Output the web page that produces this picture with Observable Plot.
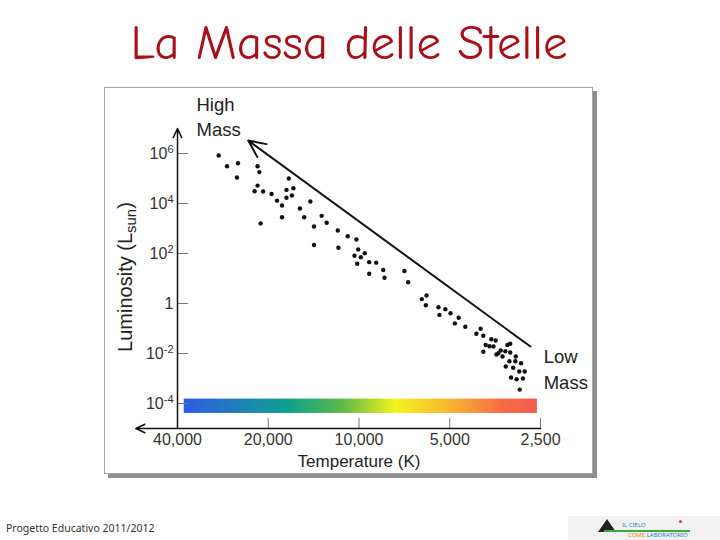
<!DOCTYPE html>
<html>
<head>
<meta charset="utf-8">
<script src="https://cdn.jsdelivr.net/npm/d3@7"></script>
<script src="https://cdn.jsdelivr.net/npm/@observablehq/plot@0.6"></script>
<style>
  html, body { margin: 0; padding: 0; background: #fff; }
  #page { position: relative; width: 720px; height: 540px; overflow: hidden; background: #fff; }
  #title { position: absolute; left: -11px; top: 19px; width: 720px; text-align: center;
           font-family: "Comic Sans MS", "Comic Neue", "Noto Sans", sans-serif; font-size: 49px; line-height: 1;
           color: #a80f18; }
  #frame { position: absolute; left: 104px; top: 87px; width: 487px; height: 385px;
           border: 1px solid #a6a6a6; box-shadow: 4px 4px 0 #8f8f8f; background: #fff; }
  #chart { position: absolute; left: 0; top: 85px; }
  #footer { position: absolute; left: 6px; top: 521px; font-family: "Comic Sans MS", "Noto Sans", sans-serif;
            font-size: 10.5px; color: #333; }
  #logo { position: absolute; left: 568px; top: 516px; width: 152px; height: 24px; background: #f1f1f1; }
  #logo .hill { position: absolute; left: 30px; top: 3px; width: 0; height: 0;
                border-left: 9px solid transparent; border-right: 9px solid transparent; border-bottom: 13px solid #222; }
  #logo .line { position: absolute; left: 36px; top: 14px; width: 86px; height: 2px; background: #3aa83a; }
  #logo .t1 { position: absolute; left: 54px; top: 5px; font: 6px "Noto Sans", sans-serif; color: #2f7fb8; }
  #logo .t2 { position: absolute; left: 60px; top: 15px; font: 6px "Noto Sans", sans-serif; color: #2f7fb8; }
  #logo .t2 b { color: #f08020; font-weight: normal; }
  #logo .dot { position: absolute; left: 111px; top: 4px; width: 3px; height: 3px; background: #d04040; border-radius: 2px; }
</style>
</head>
<body>
<div id="page">
  <div id="title">La Massa delle Stelle</div>
  <div id="frame"></div>
  <div id="chart"></div>
  <div id="footer">Progetto Educativo 2011/2012</div>
  <div id="logo"><div class="hill"></div><div class="line"></div><div class="dot"></div>
    <div class="t1">IL CIELO</div><div class="t2"><b>COME</b> LABORATORIO</div></div>
</div>
<script>
// ---- data ----
const tempTicks = [40000, 20000, 10000, 5000, 2500];
const lumTicks = [1e-4, 1e-2, 1, 1e2, 1e4, 1e6];
const lumTickBase = ["10", "10", "1", "10", "10", "10"];
const lumTickExp = ["-4", "-2", "", "2", "4", "6"];

// stars: surface temperature (K) and luminosity (L_sun)
const starTemp = [29200, 27400, 25200, 25400, 21700, 21400, 21700, 22200, 20800, 19500,
  17100, 17400, 16500, 17400, 16700, 18700, 18000, 15700, 14500, 18000,
  15200, 21200, 13300, 12800, 14100, 14100, 11760, 10900, 10200, 11700,
  10060, 9570, 10350, 9860, 10140, 9250, 8770, 8310, 9250, 8230,
  7070, 6870, 5970, 6190, 6000, 5450, 5170, 5410, 4970, 4670,
  4810, 4440, 3950, 4080, 3870, 3640, 3520, 3800, 3690, 3580,
  3870, 3220, 3150, 3390, 3270, 3500, 3450, 3150, 3340, 3020,
  3170, 3030, 2900, 3260, 3080, 2940, 2820, 3130, 3000, 2860, 2930];
const starLum = [8.3e5, 3.1e5, 4.1e5, 1.1e5, 3.1e5, 1.8e5, 5.2e4, 3.1e4, 3.0e4, 2.4e4,
  1.0e5, 3.5e4, 4.1e4, 1.7e4, 2.1e4, 1.3e4, 8.3e3, 6.3e3, 1.2e4, 2.8e3,
  2.8e3, 1.6e3, 3.2e3, 1.7e3, 1.2e3, 220, 830, 490, 363, 170,
  145, 103, 81, 71, 39, 45, 43, 22, 15.5, 10.7,
  20, 7.1, 2.1, 1.5, 0.85, 0.71, 0.59, 0.35, 0.41, 0.27,
  0.16, 0.117, 0.098, 0.062, 0.051, 0.037, 0.033, 0.022, 0.0195, 0.019,
  0.0117, 0.022, 0.0245, 0.0132, 0.0123, 0.0091, 0.0103, 0.011, 0.0076, 0.0076,
  0.0049, 0.0049, 0.0041, 0.0030, 0.0027, 0.0019, 0.0019, 0.0011, 0.00093, 0.0010, 0.00036];

// main-sequence mass arrow (low mass -> high mass)
const massArrowTemp = [2700, 23300];
const massArrowLum = [0.019, 3.3e6];

// annotation labels
const noteText = ["High\nMass", "Low\nMass"];
const noteTemp = [34600, 2440];
const noteLum = [3.4e7, 0.0027];

// axis extents (arrow tips)
const tempAxisEnds = [2500, 55000];
const lumAxisEnds = [1e-5, 1e7];

// temperature colour bar
const barTemp = [38000, 2560];
const barLum = [4.0e-5, 1.5e-4];
const gradOffsets = [0, 0.3, 0.45, 0.6, 0.76, 0.9, 1];
const gradColors = ["#2e5be8", "#0ea28e", "#5cba46", "#f4f31e", "#f8b232", "#f66c45", "#f45a52"];

// ---- build tables ----
const stars = starTemp.map((T, i) => ({T, L: starLum[i]}));
const massArrow = [{x1: massArrowTemp[0], y1: massArrowLum[0], x2: massArrowTemp[1], y2: massArrowLum[1]}];
const notes = noteText.map((text, i) => ({text, T: noteTemp[i], L: noteLum[i]}));
const yAxisLine = [{x1: tempTicks[0], x2: tempTicks[0], y1: lumAxisEnds[0], y2: lumAxisEnds[1]}];
const xAxisLine = [{x1: tempAxisEnds[0], x2: tempAxisEnds[1], y1: lumAxisEnds[0], y2: lumAxisEnds[0]}];
const colorBar = [{x1: barTemp[0], x2: barTemp[1], y1: barLum[0], y2: barLum[1]}];

const fmtX = d3.format(",");
const fmtY = d => lumTickBase[lumTicks.indexOf(d)];

const chart = Plot.plot({
  width: 720,
  height: 400,
  marginLeft: 177,
  marginRight: 180,
  marginTop: 43,
  marginBottom: 57,
  x: {type: "log", domain: [40000, 2500]},
  y: {type: "log", domain: lumAxisEnds},
  style: {fontFamily: "Arial, 'Liberation Sans', sans-serif", background: "transparent", color: "#222", overflow: "visible"},
  marks: [
    Plot.rect(colorBar, {x1: "x1", x2: "x2", y1: "y1", y2: "y2", fill: "url(#tempGrad)"}),
    Plot.axisY(lumTicks, {anchor: "left", tickSize: 11, dx: 11, tickFormat: () => "", stroke: "#777", label: null}),
    Plot.axisY(lumTicks, {anchor: "left", tickSize: 0, tickPadding: 4, tickFormat: fmtY, fontSize: 16, fill: "#333", label: null, ariaLabel: "lum-labels"}),
    Plot.axisX(tempTicks, {anchor: "bottom", tickSize: 10, dy: -10, tickFormat: () => "", stroke: "#777", label: null}),
    Plot.text(tempTicks, {x: d => d, text: fmtX, frameAnchor: "bottom", dy: 16, fontSize: 16, fill: "#333"}),
    Plot.arrow(yAxisLine, {x1: "x1", y1: "y1", x2: "x2", y2: "y2", stroke: "#111", strokeWidth: 1.5, headLength: 10, headAngle: 50}),
    Plot.arrow(xAxisLine, {x1: "x1", y1: "y1", x2: "x2", y2: "y2", stroke: "#111", strokeWidth: 1.5, headLength: 10, headAngle: 50}),
    Plot.text(["Temperature (K)"], {text: d => d, frameAnchor: "bottom", dy: 38, fontSize: 17, fill: "#222"}),
    Plot.arrow(massArrow, {x1: "x1", y1: "y1", x2: "x2", y2: "y2", stroke: "#111", strokeWidth: 2, headLength: 14, headAngle: 50}),
    Plot.dot(stars, {x: "T", y: "L", r: 2.2, fill: "#111"}),
    Plot.text(notes, {x: "T", y: "L", text: "text", textAnchor: "start", lineAnchor: "middle", fontSize: 18.5, lineHeight: 1.4, fill: "#222"})
  ]
});

const ns = "http://www.w3.org/2000/svg";

// superscript exponents on the luminosity tick labels
const labelTexts = Array.from(chart.querySelectorAll("text")).filter(t => {
  const s = t.textContent;
  return (s === "10" || s === "1") && t.closest("g") && t.getAttribute("text-anchor") !== "middle";
});
labelTexts.forEach((t, i) => {
  const datum = lumTicks[i];
  const e = lumTickExp[lumTicks.indexOf(datum)];
  if (e) {
    const sup = document.createElementNS(ns, "tspan");
    sup.textContent = e;
    sup.setAttribute("font-size", "11");
    sup.setAttribute("dy", "-6");
    t.appendChild(sup);
  }
});

// gradient definition for the colour bar
const defs = document.createElementNS(ns, "defs");
const grad = document.createElementNS(ns, "linearGradient");
grad.setAttribute("id", "tempGrad");
grad.setAttribute("x1", "0"); grad.setAttribute("x2", "1");
grad.setAttribute("y1", "0"); grad.setAttribute("y2", "0");
gradOffsets.forEach((o, i) => {
  const s = document.createElementNS(ns, "stop");
  s.setAttribute("offset", o);
  s.setAttribute("stop-color", gradColors[i]);
  grad.appendChild(s);
});
defs.appendChild(grad);
chart.insertBefore(defs, chart.firstChild);

// y-axis title with subscript
const yl = document.createElementNS(ns, "text");
yl.setAttribute("transform", "translate(132,192) rotate(-90)");
yl.setAttribute("text-anchor", "middle");
yl.setAttribute("font-size", "20");
yl.setAttribute("fill", "#222");
const p1 = document.createElementNS(ns, "tspan"); p1.textContent = "Luminosity (L";
const p2 = document.createElementNS(ns, "tspan"); p2.textContent = "sun"; p2.setAttribute("font-size", "15"); p2.setAttribute("dy", "4");
const p3 = document.createElementNS(ns, "tspan"); p3.textContent = ")"; p3.setAttribute("dy", "-4");
yl.append(p1, p2, p3);
chart.appendChild(yl);

document.getElementById("chart").appendChild(chart);
</script>
</body>
</html>
